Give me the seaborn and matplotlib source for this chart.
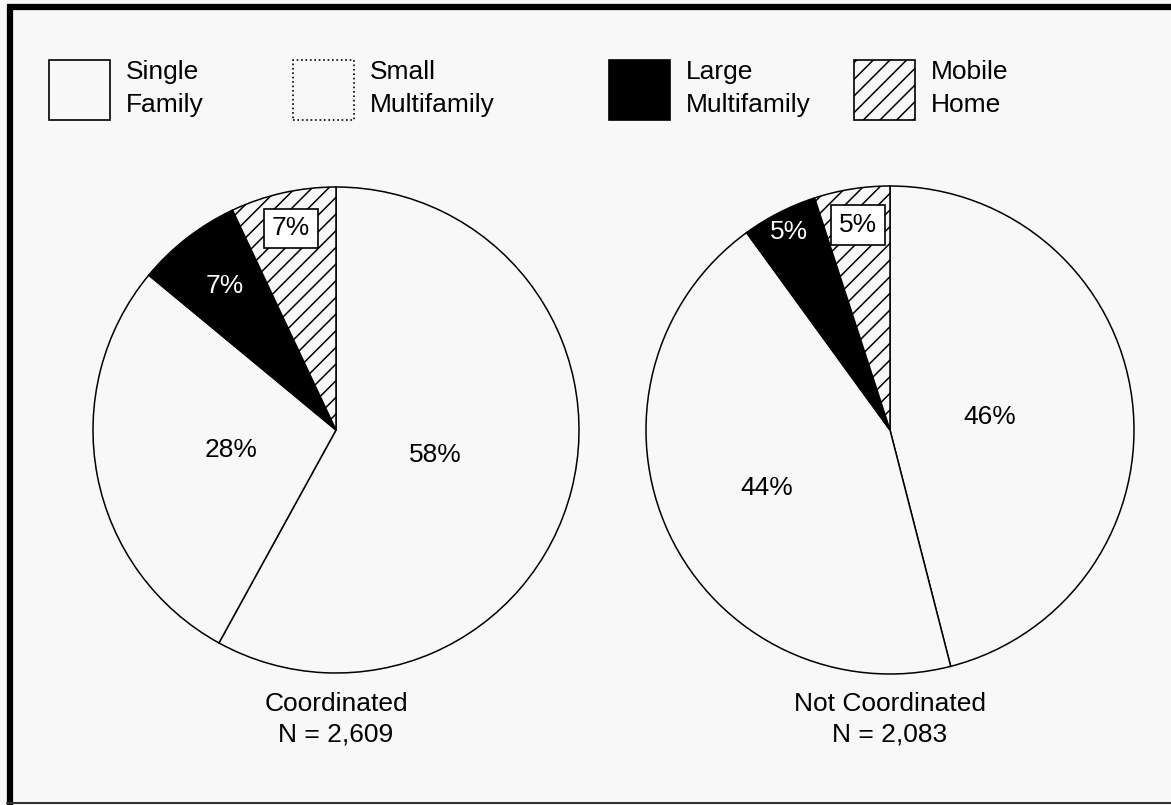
import matplotlib
matplotlib.use("Agg")
import matplotlib.pyplot as plt
from matplotlib.patches import Patch
from matplotlib.lines import Line2D
import numpy as np
import seaborn as sns

# Housing-type shares by group
categories = ["Single\nFamily", "Small\nMultifamily", "Large\nMultifamily", "Mobile\nHome"]
coordinated = [58, 28, 7, 7]
not_coordinated = [46, 44, 5, 5]
group_titles = ["Coordinated\nN = 2,609", "Not Coordinated\nN = 2,083"]

sns.set_theme(style="white")
plt.rcParams["font.family"] = ["Liberation Sans", "DejaVu Sans"]
plt.rcParams["text.color"] = "black"
plt.rcParams["hatch.linewidth"] = 1.1

BG = "#f7f8f7"
FS = 19
W, H = 1171, 805

faces = [BG, BG, "black", BG]
hatches = [None, None, None, "//"]
label_kind = ["plain", "plain", "inverse", "boxed"]

fig = plt.figure(figsize=(W / 100, H / 100), dpi=100, facecolor=BG)


def draw_pie(center_px, radius_px, values, title, label_r):
    cx, cy = center_px
    ax = fig.add_axes([(cx - radius_px) / W, (H - cy - radius_px) / H,
                       2 * radius_px / W, 2 * radius_px / H])
    ax.set_facecolor("none")
    wedges, _ = ax.pie(values, startangle=90, counterclock=False, colors=faces,
                       wedgeprops=dict(edgecolor="black", linewidth=1.1),
                       radius=1.0)
    for w, h in zip(wedges, hatches):
        if h:
            w.set_hatch(h)
    ax.set_xlim(-1, 1)
    ax.set_ylim(-1, 1)
    ax.set_aspect("equal")
    ax.axis("off")
    for w, v, kind, r in zip(wedges, values, label_kind, label_r):
        mid = np.deg2rad((w.theta1 + w.theta2) / 2)
        x, y = r * np.cos(mid), r * np.sin(mid)
        txt = f"{v}%"
        if kind == "inverse":
            ax.text(x, y, txt, color="white", fontsize=FS, ha="center", va="center")
        elif kind == "boxed":
            ax.text(x, y, txt, color="black", fontsize=FS, ha="center", va="center",
                    bbox=dict(boxstyle="square,pad=0.3", fc="white", ec="black", lw=1.2))
        else:
            ax.text(x, y, txt, color="black", fontsize=FS, ha="center", va="center")
    # caption placed a fixed pixel distance below the pie centre
    ax.text(0, -262 / radius_px, title, fontsize=FS, ha="center", va="top",
            linespacing=1.35, clip_on=False)
    return ax


draw_pie((336, 430), 243, coordinated, group_titles[0], [0.42, 0.44, 0.75, 0.85])
draw_pie((890, 430), 244, not_coordinated, group_titles[1], [0.41, 0.56, 0.91, 0.85])

# Legend: one entry per block across the top
fs_px = FS * 100 / 72
box_w, box_h = 61, 60
hh = (box_h / fs_px - 0.245) / 0.65
legend_x = [49, 293, 609, 854]
edge_styles = ["solid", "dotted", "solid", "solid"]
for cat, fc, hatch, ls, x0 in zip(categories, faces, hatches, edge_styles, legend_x):
    handle = Patch(facecolor=fc, edgecolor="black", hatch=hatch, linestyle=ls, linewidth=1.2)
    leg = fig.legend(handles=[handle], labels=[cat], loc="center left",
                     bbox_to_anchor=(x0 / W, 1 - 90 / H), frameon=False,
                     fontsize=FS, borderpad=0, borderaxespad=0,
                     handlelength=box_w / fs_px, handleheight=hh,
                     handletextpad=16 / fs_px)
    for t in leg.get_texts():
        t.set_linespacing(1.5)
        t.set_color("black")

# Outer frame
fig.add_artist(Line2D([10 / W, 10 / W], [0, 1 - 4 / H], color="black", lw=4.5,
                      transform=fig.transFigure, solid_capstyle="butt"))
fig.add_artist(Line2D([7 / W, 1], [1 - 7 / H, 1 - 7 / H], color="black", lw=4.5,
                      transform=fig.transFigure, solid_capstyle="butt"))
fig.add_artist(Line2D([7 / W, 1], [2 / H, 2 / H], color="#333333", lw=1.5,
                      transform=fig.transFigure))

fig.savefig("out.png", dpi=100, facecolor=BG)
